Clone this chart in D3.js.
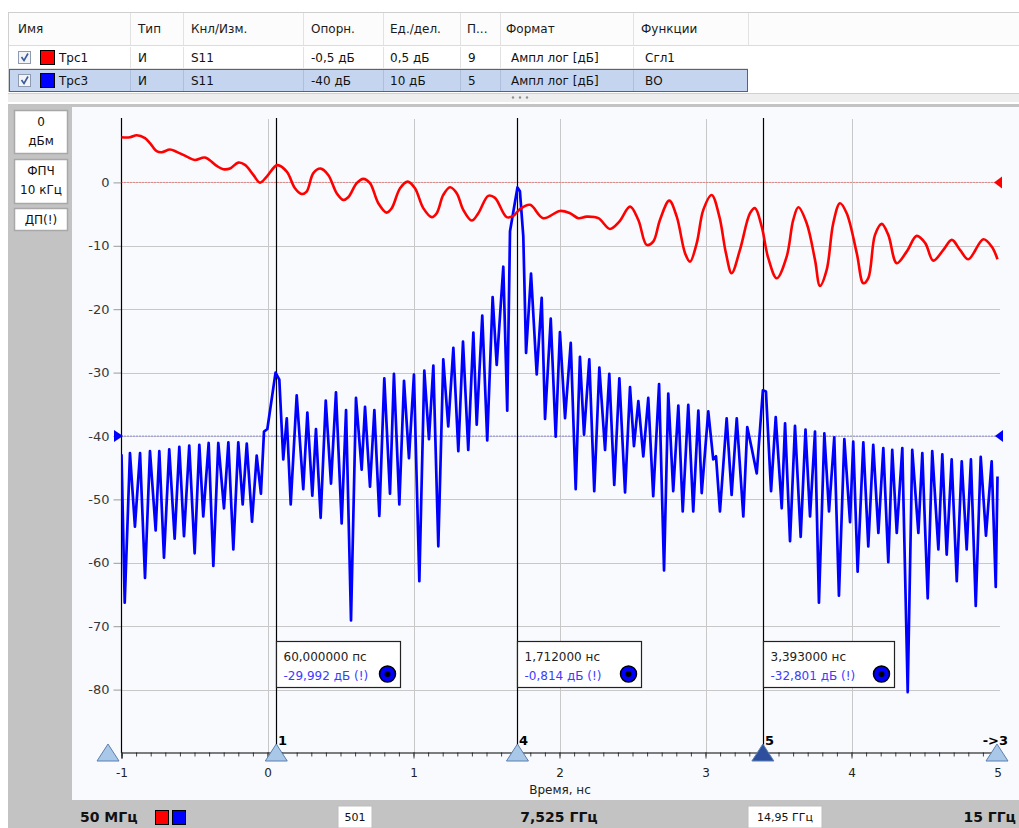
<!DOCTYPE html>
<html><head><meta charset="utf-8">
<script src="https://cdn.jsdelivr.net/npm/d3@7"></script>
<style>
body{margin:0;background:#ffffff;}
svg{display:block;font-family:"DejaVu Sans",Verdana,sans-serif;}
</style>
</head><body>
<svg id="chart" width="1019" height="828"></svg>
<script>
// ---------------- DATA ----------------
// Trc3 (blue), S11 time domain, dB
const timeBlue = [-1.000,-0.978,-0.942,-0.908,-0.873,-0.839,-0.805,-0.766,-0.741,-0.709,-0.673,-0.636,-0.604,-0.572,-0.536,-0.499,-0.467,-0.440,-0.403,-0.371,-0.337,-0.298,-0.268,-0.234,-0.200,-0.170,-0.142,-0.106,-0.074,-0.045,-0.024,-0.001,
 0.055,0.081,0.108,0.132,0.159,0.200,0.245,0.273,0.307,0.332,0.364,0.399,0.435,0.469,0.508,0.538,0.572,0.606,0.645,0.668,0.702,0.732,0.766,0.800,0.839,0.866,0.903,0.935,0.969,
 1.003,1.040,1.074,1.106,1.136,1.170,1.204,1.238,1.273,1.307,1.339,1.375,1.410,1.433,1.471,1.505,1.542,1.570,1.615,1.642,1.661,1.712,1.729,1.752,1.771,1.805,1.844,1.878,1.901,1.940,1.974,
 2.003,2.038,2.077,2.111,2.140,2.168,2.204,2.238,2.273,2.312,2.341,2.375,2.410,2.449,2.483,2.510,2.540,2.574,2.608,2.642,2.682,2.716,2.745,2.779,2.814,2.844,2.882,2.916,2.951,2.974,
 3.019,3.053,3.072,3.099,3.145,3.179,3.214,3.259,3.286,3.316,3.351,3.393,3.414,3.449,3.481,3.522,3.545,3.579,3.613,3.652,3.685,3.716,3.750,3.777,3.814,3.846,3.882,3.914,3.951,3.990,
 4.012,4.042,4.081,4.115,4.149,4.184,4.218,4.252,4.279,4.310,4.348,4.385,4.416,4.458,4.485,4.522,4.553,4.595,4.622,4.652,4.686,4.721,4.755,4.789,4.818,4.851,4.885,4.921,4.960,4.988,5.000];
const dbBlue = [-42.9,-66.3,-42.7,-54.3,-42.7,-62.4,-42.4,-54.9,-42.4,-59.2,-42.1,-56.2,-41.7,-55.8,-41.5,-58.5,-41.4,-52.7,-41.1,-60.5,-41.1,-51.4,-41.0,-57.9,-41.0,-50.8,-41.2,-53.5,-43.1,-49.1,-39.3,-38.9,
 -30.0,-31.1,-43.7,-37.2,-50.8,-33.6,-48.4,-36.3,-49.4,-38.9,-52.9,-34.4,-47.5,-33.1,-53.8,-35.9,-69.1,-34.0,-45.3,-35.4,-48.0,-35.9,-52.6,-30.9,-49.1,-30.2,-50.8,-31.3,-43.5,
 -30.3,-62.9,-29.7,-40.5,-28.9,-57.4,-27.9,-38.5,-26.1,-42.4,-25.1,-42.2,-23.7,-38.2,-21.0,-40.7,-18.1,-28.8,-13.3,-36.0,-7.7,-0.8,-1.4,-8.5,-26.9,-14.4,-30.3,-18.2,-37.3,-21.5,-40.1,
 -23.6,-37.2,-25.3,-48.4,-27.5,-39.8,-27.9,-48.7,-29.2,-42.2,-30.2,-47.7,-30.9,-48.9,-32.3,-41.6,-34.5,-43.2,-34.0,-49.5,-31.8,-61.2,-33.3,-48.7,-35.2,-51.9,-35.1,-51.9,-36.0,-49.0,
 -36.1,-43.7,-43.2,-51.9,-37.2,-49.3,-37.2,-52.7,-38.6,-41.9,-45.9,-32.8,-33.0,-48.7,-37.0,-51.4,-38.0,-56.6,-38.4,-55.9,-39.0,-52.7,-39.3,-66.3,-39.6,-51.9,-40.2,-65.2,-40.5,-53.6,
 -40.9,-61.4,-41.0,-57.4,-41.4,-55.3,-41.9,-59.9,-42.2,-55.3,-41.9,-80.4,-42.2,-55.3,-42.7,-65.6,-42.4,-57.9,-42.9,-58.7,-43.7,-62.9,-44.0,-57.9,-43.7,-66.8,-43.3,-55.7,-44.0,-63.8,-46.4];

// Trc1 (red), smoothed, dB (ref -0,5 dB, 0,5 dB/div)
const timeRed = [-1.000,-0.942,-0.896,-0.839,-0.805,-0.759,-0.725,-0.668,-0.622,-0.553,-0.497,-0.428,-0.348,-0.303,-0.257,-0.200,-0.154,-0.097,-0.051,-0.005,
 0.067,0.132,0.188,0.234,0.268,0.314,0.364,0.416,0.474,0.519,0.553,0.611,0.656,0.702,0.759,0.816,0.851,0.908,0.960,
 1.010,1.067,1.125,1.159,1.204,1.250,1.296,1.341,1.399,1.444,1.512,1.558,1.638,1.684,1.729,1.798,1.889,
 2.003,2.072,2.129,2.186,2.266,2.346,2.408,2.483,2.540,2.597,2.642,2.688,2.752,2.803,2.860,2.894,2.940,2.985,
 3.042,3.095,3.140,3.179,3.236,3.305,3.339,3.385,3.430,3.488,3.556,3.601,3.636,3.693,3.750,3.784,3.830,3.875,3.921,3.967,
 4.036,4.081,4.115,4.161,4.207,4.252,4.310,4.378,4.447,4.505,4.560,4.629,4.687,4.743,4.800,4.903,4.960,5.000];
const dbRed = [-0.144,-0.144,-0.128,-0.151,-0.191,-0.254,-0.262,-0.241,-0.259,-0.297,-0.323,-0.304,-0.370,-0.396,-0.391,-0.344,-0.362,-0.441,-0.502,-0.454,
 -0.364,-0.415,-0.546,-0.591,-0.573,-0.427,-0.391,-0.441,-0.585,-0.638,-0.617,-0.506,-0.472,-0.506,-0.664,-0.738,-0.703,-0.546,-0.494,
 -0.546,-0.703,-0.774,-0.743,-0.599,-0.538,-0.585,-0.717,-0.801,-0.743,-0.606,-0.622,-0.774,-0.764,-0.711,-0.677,-0.782,
 -0.725,-0.743,-0.782,-0.770,-0.782,-0.867,-0.812,-0.691,-0.796,-0.993,-0.967,-0.796,-0.644,-0.770,-1.058,-1.125,-0.979,-0.717,
 -0.599,-0.770,-1.058,-1.216,-1.032,-0.743,-0.703,-0.849,-1.098,-1.256,-1.085,-0.796,-0.696,-0.822,-1.111,-1.316,-1.190,-0.822,-0.664,-0.743,
 -1.058,-1.295,-1.255,-0.914,-0.827,-0.914,-1.137,-1.046,-0.922,-0.979,-1.117,-1.032,-0.953,-1.032,-1.106,-0.948,-1.006,-1.106];

const xTickValues = [-1,0,1,2,3,4,5];
const yTickValues = [0,-10,-20,-30,-40,-50,-60,-70,-80];
const markerNames = ["1","4","5"];
const markerTimes = [0.060,1.712,3.393];
const markerValues = [-29.992,-0.814,-32.801];
const markerTimeText = ["60,000000 пс","1,712000 нс","3,393000 нс"];
const markerValueText = ["-29,992 дБ (!)","-0,814 дБ (!)","-32,801 дБ (!)"];

const tableHeaders = ["Имя","Тип","Кнл/Изм.","Опорн.","Ед./дел.","П...","Формат","Функции"];
const traceNames = ["Трс1","Трс3"];
const traceColors = ["#ff0000","#0000ff"];
const traceTypes = ["И","И"];
const traceMeas = ["S11","S11"];
const traceRef = ["-0,5 дБ","-40 дБ"];
const traceScale = ["0,5 дБ","10 дБ"];
const tracePos = ["9","5"];
const traceFormat = ["Ампл лог [дБ]","Ампл лог [дБ]"];
const traceFunc = ["Сгл1","ВО"];

const leftPanelTexts = [["0","дБм"],["ФПЧ","10 кГц"],["ДП(!)"]];
const bottomTexts = {start:"50 МГц", points:"501", center:"7,525 ГГц", span:"14,95 ГГц", stop:"15 ГГц"};

// ---------------- DRAW ----------------
const svg = d3.select("#chart");
const W = 1019, H = 828;

const x = d3.scaleLinear().domain([-1,5]).range([121.5,997.5]);
const y = d3.scaleLinear().domain([-90,10]).range([753,119]);
const yRed = d3.scaleLinear().domain([-5,0]).range([753,119]);

// backgrounds
svg.append("rect").attr("x",0).attr("y",0).attr("width",W).attr("height",H).attr("fill","#ffffff");
svg.append("rect").attr("x",8).attr("y",104).attr("width",W-8).attr("height",H-104).attr("fill","#c3c3c3");
svg.append("rect").attr("x",72).attr("y",107).attr("width",W-72).attr("height",693).attr("fill","#f8fafd");

// ---- table ----
const colX = [8,130,183,303,383,460,500,633,748];
const textX = [18,138,191,311,390,467,506,641];
const tbl = svg.append("g");
tbl.append("rect").attr("x",8).attr("y",12).attr("width",W-8).attr("height",33).attr("fill","#fcfcfc");
tbl.append("line").attr("x1",8).attr("x2",W).attr("y1",12.5).attr("y2",12.5).attr("stroke","#cfcfcf");
tbl.append("line").attr("x1",8).attr("x2",W).attr("y1",45.5).attr("y2",45.5).attr("stroke","#dcdcdc");
tbl.append("line").attr("x1",8.5).attr("x2",8.5).attr("y1",12).attr("y2",92).attr("stroke","#cfcfcf");
tableHeaders.forEach((h,i)=>{
  tbl.append("text").attr("x",textX[i]).attr("y",33).attr("font-size",12).attr("fill","#1a1a1a").text(h);
});
colX.slice(1).forEach(cx=>{
  tbl.append("line").attr("x1",cx+0.5).attr("x2",cx+0.5).attr("y1",13).attr("y2",45).attr("stroke","#e2e2e2");
});
const rowY = [46,69];
traceNames.forEach((n,i)=>{
  const ry = rowY[i];
  if(i===1){
    tbl.append("rect").attr("x",9.5).attr("y",ry+0.5).attr("width",738).attr("height",22).attr("fill","#c5d5ef").attr("stroke","#3a64b4").attr("stroke-width",1);
  } else {
    tbl.append("line").attr("x1",8).attr("x2",748).attr("y1",ry+22.5).attr("y2",ry+22.5).attr("stroke","#e4e4e4");
  }
  tbl.append("rect").attr("x",18.5).attr("y",ry+5.5).attr("width",12).attr("height",12).attr("fill","#f2f4f8").attr("stroke","#8c9bb0");
  tbl.append("path").attr("d",`M21.5,${ry+11} L24,${ry+14.5} L28,${ry+7.5}`).attr("fill","none").attr("stroke","#3a5a9a").attr("stroke-width",1.6);
  tbl.append("rect").attr("x",40.5).attr("y",ry+4.5).attr("width",14).attr("height",14).attr("fill",traceColors[i]).attr("stroke","#000");
  const vals = [n,traceTypes[i],traceMeas[i],traceRef[i],traceScale[i],tracePos[i],traceFormat[i],traceFunc[i]];
  const tx = [59,138,191,311,390,468,511,645];
  vals.forEach((v,j)=>{
    tbl.append("text").attr("x",tx[j]).attr("y",ry+16).attr("font-size",12).attr("fill","#111").text(v);
  });
  colX.slice(1,8).forEach(cx=>{
    tbl.append("line").attr("x1",cx+0.5).attr("x2",cx+0.5).attr("y1",ry+1).attr("y2",ry+22).attr("stroke", i===1?"#aebfdc":"#e2e2e2");
  });
});
// splitter
svg.append("rect").attr("x",8).attr("y",93).attr("width",W-8).attr("height",9).attr("fill","#eeeeee");
svg.append("line").attr("x1",8).attr("x2",W).attr("y1",93.5).attr("y2",93.5).attr("stroke","#d0d0d0");
[513,520,527].forEach(cx=>svg.append("circle").attr("cx",cx).attr("cy",97.5).attr("r",1.2).attr("fill","#909090"));

// ---- left panel boxes ----
const boxes = [{y:110,h:43},{y:159,h:44},{y:208,h:22}];
leftPanelTexts.forEach((lines,i)=>{
  const b = boxes[i];
  svg.append("rect").attr("x",14.5).attr("y",b.y+0.5).attr("width",53).attr("height",b.h).attr("fill","#ffffff").attr("stroke","#a8a8a8").attr("stroke-width",1.5);
  lines.forEach((t,k)=>{
    svg.append("text").attr("x",41).attr("y",b.y+16+k*19).attr("text-anchor","middle").attr("font-size",12).attr("fill","#111").text(t);
  });
});

// ---- grid ----
const grid = svg.append("g");
yTickValues.forEach(v=>{
  grid.append("line").attr("x1",121.5).attr("x2",1000).attr("y1",Math.round(y(v))+0.5).attr("y2",Math.round(y(v))+0.5)
    .attr("stroke","#c8c8c8").attr("stroke-width",1);
});
xTickValues.filter(v=>v>-1 && v<5).forEach(v=>{
  grid.append("line").attr("x1",Math.round(x(v))+0.5).attr("x2",Math.round(x(v))+0.5).attr("y1",119).attr("y2",753)
    .attr("stroke","#c8c8c8").attr("stroke-width",1);
});

// y axis
const yAxis = d3.axisLeft(y).tickValues(yTickValues).tickSize(8).tickPadding(4).tickFormat(d=>d);
const gy = svg.append("g").attr("transform","translate(121.5,0)").call(yAxis);
gy.select(".domain").remove();
gy.selectAll(".tick line").attr("stroke","#9a9a9a");
gy.selectAll(".tick text").attr("font-size",13).attr("fill","#383838").attr("font-family","DejaVu Sans, sans-serif");
svg.append("line").attr("x1",121.5).attr("x2",121.5).attr("y1",118).attr("y2",753).attr("stroke","#000").attr("stroke-width",1.2);

// x axis
const minorTicks = d3.range(-10,51).map(d=>d/10);
const xAxisMinor = d3.axisBottom(x).tickValues(minorTicks).tickSize(4).tickFormat("");
const gxm = svg.append("g").attr("transform","translate(0,752.5)").call(xAxisMinor);
gxm.select(".domain").remove();
gxm.selectAll(".tick line").attr("stroke","#444");
const xAxis = d3.axisBottom(x).tickValues(xTickValues).tickSize(6).tickPadding(10).tickFormat(d=>d);
const gx = svg.append("g").attr("transform","translate(0,752.5)").call(xAxis);
gx.select(".domain").attr("stroke","#000").attr("stroke-width",1.2);
gx.selectAll(".tick line").attr("stroke","#444");
gx.selectAll(".tick text").attr("font-size",12).attr("fill","#222").attr("font-family","DejaVu Sans, sans-serif");
svg.append("text").attr("x",560).attr("y",794).attr("text-anchor","middle").attr("font-size",12).attr("fill","#222").text("Время, нс");

// reference lines
svg.append("line").attr("x1",121.5).attr("x2",997).attr("y1",y(0)).attr("y2",y(0)).attr("stroke","#ff4040").attr("stroke-width",1).attr("stroke-dasharray","1,2");
svg.append("line").attr("x1",121.5).attr("x2",997).attr("y1",y(-40)).attr("y2",y(-40)).attr("stroke","#4040ff").attr("stroke-width",1).attr("stroke-dasharray","1,2");
svg.append("path").attr("d",`M994,${y(0)} L1002,${y(0)-6} L1002,${y(0)+6} Z`).attr("fill","#ff0000");
svg.append("path").attr("d",`M995,${y(-40)} L1003,${y(-40)-6} L1003,${y(-40)+6} Z`).attr("fill","#0000ff");
svg.append("path").attr("d",`M123,${y(-40)} L114,${y(-40)-6} L114,${y(-40)+6} Z`).attr("fill","#0000ff");

// clip
svg.append("clipPath").attr("id","plotclip").append("rect").attr("x",121).attr("y",119).attr("width",878).attr("height",634);

// marker vertical lines
markerTimes.forEach(t=>{
  svg.append("line").attr("x1",Math.round(x(t))+0.5).attr("x2",Math.round(x(t))+0.5).attr("y1",118).attr("y2",753).attr("stroke","#000").attr("stroke-width",1.2);
});

// traces
const lineBlue = d3.line().x((d,i)=>x(timeBlue[i])).y(d=>y(d));
svg.append("path").datum(dbBlue).attr("d",lineBlue).attr("fill","none").attr("stroke","#0000ff").attr("stroke-width",2.7).attr("stroke-linejoin","round").attr("clip-path","url(#plotclip)");
const lineRed = d3.line().x((d,i)=>x(timeRed[i])).y(d=>yRed(d)).curve(d3.curveCatmullRom.alpha(0.5));
svg.append("path").datum(dbRed).attr("d",lineRed).attr("fill","none").attr("stroke","#ff0000").attr("stroke-width",2.6).attr("stroke-linejoin","round").attr("clip-path","url(#plotclip)");

// marker readout boxes
const boxW = [124,124,131];
markerTimes.forEach((t,i)=>{
  const bx = Math.round(x(t))+0.5;
  const g = svg.append("g");
  g.append("rect").attr("x",bx).attr("y",641.5).attr("width",boxW[i]).attr("height",46).attr("fill","#ffffff").attr("stroke","#222").attr("stroke-width",1.2);
  g.append("text").attr("x",bx+7).attr("y",661).attr("font-size",12).attr("fill","#222").text(markerTimeText[i]);
  g.append("text").attr("x",bx+7).attr("y",680).attr("font-size",12).attr("fill","#3c3cff").text(markerValueText[i]);
  const cx = bx+boxW[i]-13, cy = 674;
  g.append("circle").attr("cx",cx).attr("cy",cy).attr("r",8).attr("fill","#0000ff").attr("stroke","#000").attr("stroke-width",1.5);
  g.append("circle").attr("cx",cx).attr("cy",cy).attr("r",3).attr("fill","#000");
});

// marker triangles on x axis
const triX = [108, x(markerTimes[0]), x(markerTimes[1]), x(markerTimes[2]), 997];
const triFill = ["#a9c8e8","#a9c8e8","#a9c8e8","#2d4f9e","#a9c8e8"];
triX.forEach((tx,i)=>{
  svg.append("path").attr("d",`M${tx},744 L${tx+11},761 L${tx-11},761 Z`).attr("fill",triFill[i]).attr("stroke","#5a7fb0").attr("stroke-width",1);
});
markerNames.forEach((n,i)=>{
  svg.append("text").attr("x",Math.round(x(markerTimes[i]))+2).attr("y",745).attr("font-size",13).attr("font-weight","bold").attr("fill","#000").text(n);
});
svg.append("text").attr("x",1008).attr("y",745).attr("text-anchor","end").attr("font-size",13).attr("font-weight","bold").attr("fill","#000").text("->3");

// ---- bottom bar ----
svg.append("rect").attr("x",8).attr("y",800).attr("width",W-8).attr("height",28).attr("fill","#c3c3c3");
svg.append("text").attr("x",80).attr("y",822).attr("font-size",14).attr("font-weight","bold").attr("fill","#111").text(bottomTexts.start);
traceColors.forEach((c,i)=>{
  svg.append("rect").attr("x",155.5+i*17).attr("y",810.5).attr("width",13).attr("height",14).attr("fill",c).attr("stroke","#000");
});
svg.append("rect").attr("x",338).attr("y",806).attr("width",34).attr("height",22).attr("fill","#ffffff").attr("stroke","#bdbdbd");
svg.append("text").attr("x",355).attr("y",821).attr("text-anchor","middle").attr("font-size",11).attr("fill","#111").text(bottomTexts.points);
svg.append("text").attr("x",559).attr("y",822).attr("text-anchor","middle").attr("font-size",14).attr("font-weight","bold").attr("fill","#111").text(bottomTexts.center);
svg.append("rect").attr("x",748).attr("y",806).attr("width",74).attr("height",22).attr("fill","#ffffff").attr("stroke","#bdbdbd");
svg.append("text").attr("x",785).attr("y",821).attr("text-anchor","middle").attr("font-size",11).attr("fill","#111").text(bottomTexts.span);
svg.append("text").attr("x",1016).attr("y",822).attr("text-anchor","end").attr("font-size",14).attr("font-weight","bold").attr("fill","#111").text(bottomTexts.stop);
</script>
</body></html>
